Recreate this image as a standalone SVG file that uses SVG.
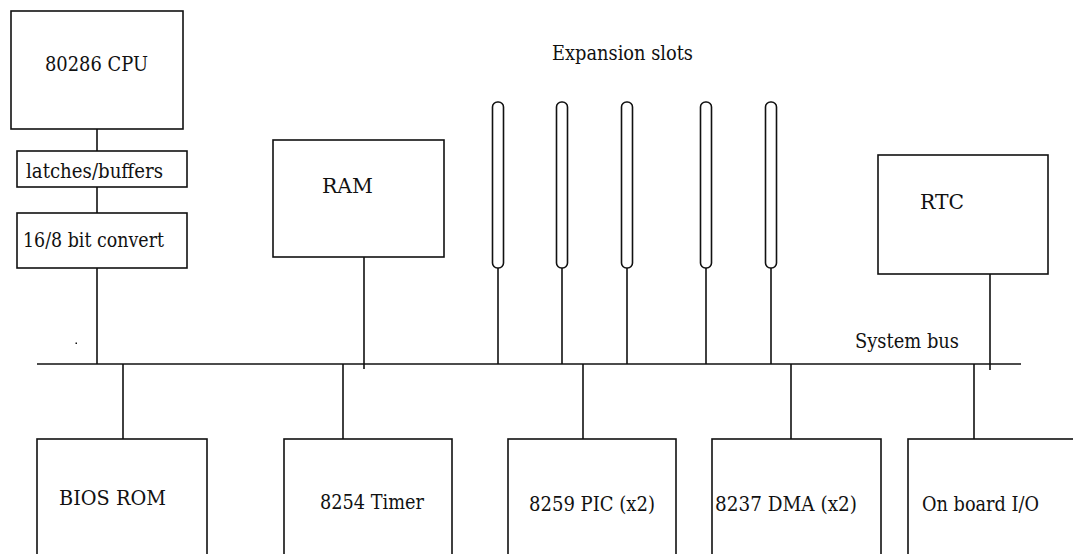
<svg xmlns="http://www.w3.org/2000/svg" width="1073" height="554" viewBox="0 0 1073 554">
<style>
.box{fill:#fff;stroke:#111;stroke-width:1.6}
.ln{stroke:#111;stroke-width:1.6;fill:none}
.slot{fill:#fff;stroke:#111;stroke-width:1.6}
.t{font-family:'DejaVu Serif','Liberation Serif',serif;font-size:21px;fill:#111}
</style>
<rect width="1073" height="554" fill="#fff"/>
<g id="connectors">
<line class="ln" x1="37" y1="364" x2="1021" y2="364"/>
<line class="ln" x1="97" y1="129" x2="97" y2="151"/>
<line class="ln" x1="97" y1="187" x2="97" y2="213"/>
<line class="ln" x1="97" y1="268" x2="97" y2="364"/>
<line class="ln" x1="364" y1="257" x2="364" y2="369"/>
<line class="ln" x1="990" y1="274" x2="990" y2="370"/>
<line class="ln" x1="123" y1="364" x2="123" y2="439"/>
<line class="ln" x1="343" y1="364" x2="343" y2="439"/>
<line class="ln" x1="583" y1="364" x2="583" y2="439"/>
<line class="ln" x1="791" y1="364" x2="791" y2="439"/>
<line class="ln" x1="974" y1="364" x2="974" y2="439"/>
<line class="ln" x1="498" y1="268" x2="498" y2="364"/>
<line class="ln" x1="562" y1="268" x2="562" y2="364"/>
<line class="ln" x1="627" y1="268" x2="627" y2="364"/>
<line class="ln" x1="706" y1="268" x2="706" y2="364"/>
<line class="ln" x1="771" y1="268" x2="771" y2="364"/>
</g>
<g id="cpu"><rect class="box" x="11" y="11" width="172" height="118"/><text class="t" x="45" y="71" textLength="103" lengthAdjust="spacingAndGlyphs">80286 CPU</text></g>
<g id="latches"><rect class="box" x="17" y="151" width="170" height="36"/><text class="t" x="26" y="178" textLength="137" lengthAdjust="spacingAndGlyphs">latches/buffers</text></g>
<g id="convert"><rect class="box" x="17" y="213" width="170" height="55"/><text class="t" x="23" y="247" textLength="141" lengthAdjust="spacingAndGlyphs">16/8 bit convert</text></g>
<g id="ram"><rect class="box" x="273" y="140" width="171" height="117"/><text class="t" x="322" y="193" textLength="51" lengthAdjust="spacingAndGlyphs">RAM</text></g>
<g id="rtc"><rect class="box" x="878" y="155" width="170" height="119"/><text class="t" x="920" y="209" textLength="44" lengthAdjust="spacingAndGlyphs">RTC</text></g>
<g id="expansion-slots">
<text class="t" x="552" y="60" textLength="141" lengthAdjust="spacingAndGlyphs">Expansion slots</text>
<rect class="slot" x="492.5" y="102" width="11" height="166" rx="5" ry="5"/>
<rect class="slot" x="556.5" y="102" width="11" height="166" rx="5" ry="5"/>
<rect class="slot" x="621.5" y="102" width="11" height="166" rx="5" ry="5"/>
<rect class="slot" x="700.5" y="102" width="11" height="166" rx="5" ry="5"/>
<rect class="slot" x="765.5" y="102" width="11" height="166" rx="5" ry="5"/>
</g>
<g id="system-bus"><text class="t" x="855" y="348" textLength="104" lengthAdjust="spacingAndGlyphs">System bus</text></g>
<g id="bios"><rect class="box" x="37" y="439" width="170" height="130"/><text class="t" x="59" y="505" textLength="107" lengthAdjust="spacingAndGlyphs">BIOS ROM</text></g>
<g id="timer"><rect class="box" x="284" y="439" width="168" height="130"/><text class="t" x="320" y="509" textLength="104" lengthAdjust="spacingAndGlyphs">8254 Timer</text></g>
<g id="pic"><rect class="box" x="508" y="439" width="168" height="130"/><text class="t" x="529" y="511" textLength="126" lengthAdjust="spacingAndGlyphs">8259 PIC (x2)</text></g>
<g id="dma"><rect class="box" x="712" y="439" width="169" height="130"/><text class="t" x="715" y="511" textLength="142" lengthAdjust="spacingAndGlyphs">8237 DMA (x2)</text></g>
<g id="io"><rect class="box" x="908" y="439" width="180" height="130"/><text class="t" x="922" y="511" textLength="117" lengthAdjust="spacingAndGlyphs">On board I/O</text></g>
<rect id="dot" x="75.5" y="342.5" width="1.5" height="1.5" fill="#111"/>
</svg>
